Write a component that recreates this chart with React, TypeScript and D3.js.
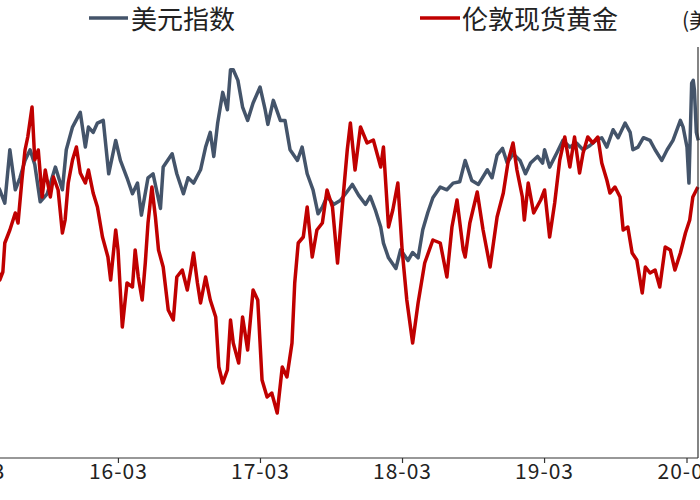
import React from "react";
import * as d3 from "d3";

const seriesNames = ["美元指数", "伦敦现货黄金"];
const unitLabel = "(美元/盎司)";
const xTickDates = ["2015-03-01", "2016-03-01", "2017-03-01", "2018-03-01", "2019-03-01", "2020-03-01"];
const xTickLabels = ["15-03", "16-03", "17-03", "18-03", "19-03", "20-03"];

const usdDates = [
  "2015-01-08","2015-02-16","2015-03-24","2015-05-01","2015-05-14","2015-05-27","2015-06-10","2015-06-22","2015-07-05","2015-07-18",
  "2015-07-30","2015-08-13","2015-08-31","2015-09-21","2015-10-09","2015-10-19","2015-11-04","2015-11-24","2015-12-07","2015-12-15",
  "2015-12-27","2016-01-07","2016-01-22","2016-02-05","2016-02-23","2016-03-06","2016-03-23","2016-04-06","2016-04-19","2016-04-29",
  "2016-05-16","2016-05-29","2016-06-17","2016-06-24","2016-07-17","2016-07-29","2016-08-15","2016-08-27","2016-09-10","2016-09-28",
  "2016-10-11","2016-10-23","2016-11-01","2016-11-11","2016-11-24","2016-12-06","2016-12-14","2016-12-21","2017-01-02","2017-01-14",
  "2017-01-27","2017-02-10","2017-02-28","2017-03-13","2017-03-20","2017-04-03","2017-04-21","2017-05-03","2017-05-16","2017-06-04",
  "2017-06-16","2017-06-29","2017-07-14","2017-07-27","2017-08-07","2017-08-19","2017-09-05","2017-09-22","2017-10-08","2017-10-23",
  "2017-11-08","2017-11-26","2017-12-08","2017-12-21","2018-01-04","2018-01-11","2018-01-24","2018-02-12","2018-02-24","2018-03-15",
  "2018-03-27","2018-04-10","2018-04-22","2018-05-05","2018-05-18","2018-06-06","2018-06-23","2018-07-09","2018-07-26","2018-08-09",
  "2018-08-26","2018-09-12","2018-10-05","2018-10-17","2018-10-30","2018-11-13","2018-11-25","2018-12-10","2018-12-28","2019-01-11",
  "2019-01-24","2019-02-11","2019-02-24","2019-03-01","2019-03-14","2019-04-02","2019-04-17","2019-05-05","2019-05-22","2019-06-08",
  "2019-06-25","2019-07-11","2019-07-26","2019-08-08","2019-08-24","2019-09-06","2019-09-24","2019-10-07","2019-10-14","2019-10-27",
  "2019-11-10","2019-11-27","2019-12-10","2019-12-27","2020-01-10","2020-01-25","2020-02-13","2020-02-20","2020-03-01","2020-03-06",
  "2020-03-13","2020-03-17","2020-03-20","2020-03-25","2020-03-30"
];
const usdValues = [
  92.0, 95.4, 96.2, 94.3, 93.3, 97.3, 94.3, 95.2, 96.5, 97.3,
  96.2, 93.4, 94.0, 96.0, 94.3, 97.3, 99.0, 100.1, 97.5, 99.0,
  98.6, 99.3, 99.5, 95.5, 98.0, 96.5, 95.2, 94.0, 94.8, 92.4,
  95.2, 95.5, 92.9, 96.0, 97.0, 95.5, 94.0, 95.2, 94.8, 95.8,
  97.5, 98.6, 96.8, 99.3, 101.6, 100.3, 103.3, 103.3, 102.5, 100.5,
  99.5, 100.8, 102.0, 100.3, 99.2, 101.0, 99.5, 99.5, 97.3, 96.5,
  97.5, 95.5, 94.3, 92.5, 93.0, 93.8, 93.2, 93.5, 94.1, 94.7,
  93.9, 93.2, 93.8, 92.8, 91.5, 90.3, 89.2, 88.4, 89.8, 89.0,
  89.6, 89.2, 91.3, 92.6, 93.7, 94.5, 94.3, 94.8, 94.9, 96.5,
  95.0, 94.7, 95.8, 95.2, 96.9, 97.4, 96.3, 97.0, 96.5, 95.5,
  96.3, 96.8, 96.3, 97.3, 96.0, 97.1, 98.0, 97.5, 97.8, 97.3,
  97.6, 98.0, 98.2, 97.5, 98.8, 98.2, 99.3, 98.6, 97.3, 97.5,
  98.2, 98.0, 97.3, 96.5, 97.3, 98.0, 99.5, 99.0, 97.5, 94.8,
  102.3, 102.5, 101.8, 98.6, 98.0
];

const goldDates = [
  "2015-01-20","2015-03-11","2015-04-16","2015-05-01","2015-05-09","2015-05-14","2015-05-27","2015-06-10","2015-06-17","2015-06-27",
  "2015-07-05","2015-07-12","2015-07-23","2015-07-30","2015-08-08","2015-08-18","2015-08-26","2015-09-08","2015-09-16","2015-09-28",
  "2015-10-09","2015-10-16","2015-10-24","2015-11-04","2015-11-14","2015-11-24","2015-12-07","2015-12-15","2015-12-27","2016-01-07",
  "2016-01-20","2016-02-03","2016-02-10","2016-02-23","2016-02-29","2016-03-11","2016-03-23","2016-04-06","2016-04-13","2016-04-21",
  "2016-05-01","2016-05-09","2016-05-16","2016-05-26","2016-06-04","2016-06-12","2016-06-24","2016-07-07","2016-07-20","2016-07-29",
  "2016-08-12","2016-08-25","2016-09-03","2016-09-10","2016-09-20","2016-09-28","2016-10-11","2016-10-23","2016-11-06","2016-11-14",
  "2016-11-24","2016-12-06","2016-12-14","2016-12-21","2017-01-04","2017-01-14","2017-01-27","2017-02-10","2017-02-22","2017-03-05",
  "2017-03-18","2017-03-30","2017-04-13","2017-04-26","2017-05-08","2017-05-21","2017-05-28","2017-06-06","2017-06-19","2017-06-29",
  "2017-07-12","2017-07-24","2017-08-07","2017-08-19","2017-09-02","2017-09-15","2017-09-28","2017-10-10","2017-10-18","2017-10-30",
  "2017-11-13","2017-11-30","2017-12-16","2018-01-04","2018-01-11","2018-01-24","2018-02-04","2018-02-17","2018-02-28","2018-03-12",
  "2018-03-27","2018-04-10","2018-04-27","2018-05-18","2018-06-06","2018-06-23","2018-07-06","2018-07-19","2018-08-04","2018-08-09",
  "2018-08-21","2018-09-09","2018-09-24","2018-10-12","2018-10-30","2018-11-15","2018-11-28","2018-12-10","2018-12-20","2019-01-03",
  "2019-01-08","2019-01-18","2019-02-01","2019-02-19","2019-03-01","2019-03-14","2019-03-27","2019-04-09","2019-04-22","2019-05-05",
  "2019-05-17","2019-05-30","2019-06-08","2019-06-20","2019-07-03","2019-07-16","2019-07-26","2019-08-08","2019-08-16","2019-08-29",
  "2019-09-11","2019-09-19","2019-10-01","2019-10-12","2019-10-24","2019-11-07","2019-11-15","2019-11-27","2019-12-10","2019-12-22",
  "2020-01-05","2020-01-18","2020-01-30","2020-02-13","2020-02-26","2020-03-08","2020-03-16","2020-03-29"
];
const goldValues = [
  1336, 1292, 1326, 1256, 1272, 1330, 1356, 1390, 1370, 1456,
  1516, 1542, 1602, 1496, 1516, 1422, 1476, 1422, 1462, 1436,
  1350, 1376, 1450, 1496, 1522, 1470, 1450, 1476, 1430, 1402,
  1342, 1302, 1256, 1356, 1316, 1162, 1250, 1242, 1316, 1262,
  1216, 1290, 1370, 1442, 1382, 1316, 1282, 1196, 1176, 1262,
  1276, 1236, 1276, 1310, 1250, 1210, 1262, 1216, 1182, 1082,
  1050, 1076, 1176, 1130, 1090, 1182, 1116, 1236, 1216, 1056,
  1022, 1030, 990, 1082, 1062, 1130, 1250, 1330, 1342, 1402,
  1302, 1356, 1370, 1436, 1402, 1290, 1410, 1516, 1570, 1476,
  1562, 1530, 1536, 1482, 1522, 1362, 1396, 1450, 1316, 1216,
  1130, 1210, 1290, 1336, 1330, 1262, 1362, 1416, 1316, 1302,
  1370, 1432, 1356, 1282, 1382, 1430, 1496, 1530, 1476, 1422,
  1376, 1450, 1390, 1416, 1436, 1342, 1410, 1496, 1542, 1482,
  1542, 1470, 1510, 1542, 1530, 1542, 1490, 1456, 1430, 1442,
  1422, 1356, 1362, 1310, 1296, 1230, 1282, 1270, 1276, 1242,
  1322, 1316, 1276, 1310, 1350, 1376, 1422, 1442
];

const W = 700;
const H = 500;
const plotTop = 47;
const plotBottom = 458;
const rightAxisX = 698;
const usdColor = "#44546A";
const goldColor = "#C00000";
const font = "'Noto Sans CJK SC', 'Noto Sans', sans-serif";

export default function App() {
  const parse = d3.timeParse("%Y-%m-%d");
  const x = d3
    .scaleTime()
    .domain([parse(xTickDates[0])!, parse(xTickDates[xTickDates.length - 1])!])
    .range([-24, 687]);
  const yUsd = d3.scaleLinear().domain([74.2, 105]).range([plotBottom, plotTop]);
  const yGold = d3.scaleLinear().domain([900, 1722]).range([plotBottom, plotTop]);

  const usd = usdDates.map((d, i) => ({ date: parse(d)!, v: usdValues[i] }));
  const gold = goldDates.map((d, i) => ({ date: parse(d)!, v: goldValues[i] }));

  const usdLine = d3
    .line<{ date: Date; v: number }>()
    .x((d) => x(d.date))
    .y((d) => yUsd(d.v));
  const goldLine = d3
    .line<{ date: Date; v: number }>()
    .x((d) => x(d.date))
    .y((d) => yGold(d.v));

  const ticks = xTickDates.map((d, i) => ({ x: x(parse(d)!), label: xTickLabels[i] }));

  return (
    <svg
      width={W}
      height={H}
      style={{ position: "absolute", left: 0, top: 0, background: "#fff" }}
    >
      <rect x={0} y={0} width={W} height={H} fill="#fff" />
      {/* lines */}
      <path d={usdLine(usd) || ""} fill="none" stroke={usdColor} strokeWidth={3.5} strokeLinejoin="round" />
      <path d={goldLine(gold) || ""} fill="none" stroke={goldColor} strokeWidth={3.5} strokeLinejoin="round" />

      {/* x axis */}
      <line x1={0} x2={rightAxisX} y1={plotBottom} y2={plotBottom} stroke="#333" strokeWidth={1.2} />
      {ticks.map((t, i) => (
        <g key={i}>
          <line x1={t.x} x2={t.x} y1={plotBottom} y2={plotBottom + 5} stroke="#333" strokeWidth={1.2} />
          <text
            x={t.x}
            y={plotBottom + 21}
            textAnchor="middle"
            fontFamily={font}
            fontSize={21}
            letterSpacing={1}
            fill="#222"
          >
            {t.label}
          </text>
        </g>
      ))}

      {/* right axis */}
      <line x1={rightAxisX} x2={rightAxisX} y1={plotTop} y2={plotBottom} stroke="#333" strokeWidth={1.2} />

      {/* legend */}
      <line x1={89} x2={128} y1={18} y2={18} stroke={usdColor} strokeWidth={3.5} />
      <text x={131} y={29} fontFamily={font} fontSize={26} fill="#222">
        {seriesNames[0]}
      </text>
      <line x1={420} x2={460} y1={18} y2={18} stroke={goldColor} strokeWidth={3.5} />
      <text x={462} y={29} fontFamily={font} fontSize={26} fill="#222">
        {seriesNames[1]}
      </text>
      <text x={682} y={28} fontFamily={font} fontSize={21} fill="#222">
        {unitLabel}
      </text>
    </svg>
  );
}
